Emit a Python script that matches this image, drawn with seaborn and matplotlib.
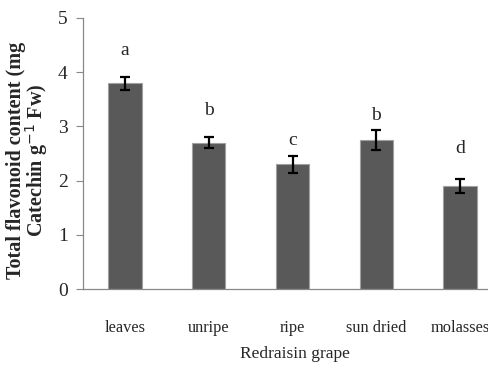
import pandas as pd
import matplotlib
matplotlib.use("Agg")
import matplotlib.pyplot as plt
import seaborn as sns

# Data:
stage = ["leaves", "unripe", "ripe", "sun dried", "molasses"]
flavonoid = [3.80, 2.70, 2.30, 2.75, 1.90]
err = [0.12, 0.10, 0.16, 0.18, 0.13]
letters = ["a", "b", "c", "b", "d"]
letter_y = [4.31, 3.21, 2.66, 3.12, 2.51]  # baseline of significance letters

df = pd.DataFrame({"stage": stage, "flavonoid": flavonoid})

sns.set_style("white")
plt.rcParams['font.family'] = ['Liberation Serif', 'DejaVu Serif']

fig = plt.figure(figsize=(4.88, 3.69), dpi=100)
ax = fig.add_axes([83 / 488, 1 - 289 / 369, (502 - 83) / 488, (289 - 18) / 369])

sns.barplot(x="stage", y="flavonoid", data=df, color="#595959", width=0.4,
            edgecolor="#a0a0a0", linewidth=0.8, saturation=1, ax=ax)
ax.errorbar(range(len(stage)), flavonoid, yerr=err, fmt="none", ecolor="black",
            elinewidth=1.6, capsize=3.5, capthick=1.6)

for i, (y, l) in enumerate(zip(letter_y, letters)):
    ax.text(i, y, l, ha="center", va="baseline", fontsize=14)

ax.set_xlim(-0.5, 4.5)
ax.set_ylim(0, 5)
ax.set_yticks(range(6))
ax.tick_params(axis="y", labelsize=14, length=5, width=0.8, color="#888888", direction="out", left=True, pad=6)
ax.tick_params(axis="x", labelsize=11.8, length=0, pad=22)
for s in ["top", "right"]:
    ax.spines[s].set_visible(False)
for s in ["left", "bottom"]:
    ax.spines[s].set_color("#888888")
    ax.spines[s].set_linewidth(0.9)

ax.set_xlabel("Redraisin grape", fontsize=12.5)
ax.xaxis.set_label_coords((295 - 83) / (502 - 83), -(346 - 289) / (289 - 18))
ax.set_ylabel("")
fig.text(28 / 488, 1 - 160 / 369, "Total flavonoid content (mg\nCatechin g$^{-1}$ Fw)",
         rotation=90, ha="center", va="center", fontsize=14.5, fontweight="bold",
         linespacing=0.9, multialignment="center")

fig.savefig("out.png", dpi=100)
